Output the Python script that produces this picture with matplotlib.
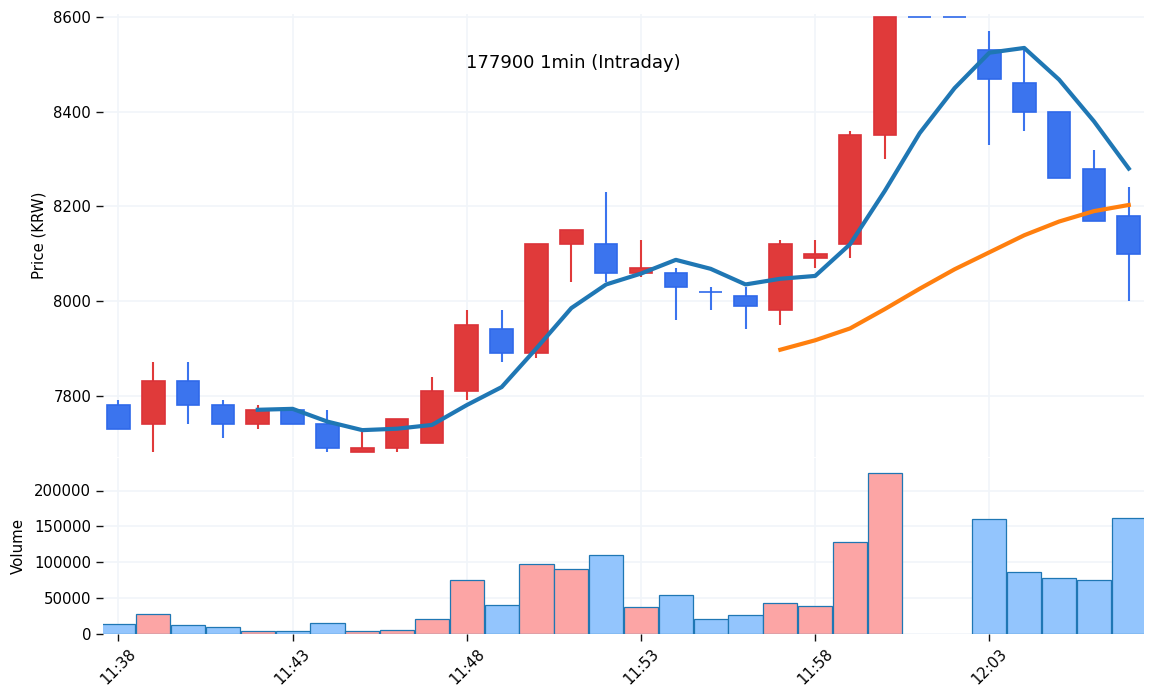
import matplotlib
matplotlib.use("Agg")
import matplotlib.pyplot as plt

minutes = ["11:38","11:39","11:40","11:41","11:42","11:43","11:44","11:45","11:46","11:47",
           "11:48","11:49","11:50","11:51","11:52","11:53","11:54","11:55","11:56","11:57",
           "11:58","11:59","12:00","12:01","12:02","12:03","12:04","12:05","12:06","12:07"]
opens  = [7780,7740,7830,7780,7740,7770,7740,7680,7690,7700,7810,7940,7890,8120,8120,8060,8060,8020,8010,7980,8090,8120,8350,8600,8600,8530,8460,8400,8280,8180]
closes = [7730,7830,7780,7740,7770,7740,7690,7690,7750,7810,7950,7890,8120,8150,8060,8070,8030,8020,7990,8120,8100,8350,8600,8600,8600,8470,8400,8260,8170,8100]
highs  = [7790,7870,7870,7790,7780,7770,7770,7722,7750,7840,7980,7980,8120,8150,8230,8130,8070,8030,8030,8130,8130,8360,8600,8600,8600,8570,8530,8400,8320,8240]
lows   = [7730,7680,7740,7710,7730,7740,7680,7680,7680,7700,7790,7870,7880,8040,8040,8050,7960,7980,7940,7950,8070,8090,8300,8600,8600,8330,8360,8260,8170,8000]
volumes = [13500,27500,12500,9500,3500,3500,15000,3500,6000,20500,75000,40000,97000,91000,110000,37000,54000,20500,26000,43000,39000,128000,224000,0,0,160000,86000,78000,75000,162000]
ma5 = [7770,7772,7745,7727,7730,7738,7780,7818,7900,7985,8035,8058,8087,8068,8035,8047,8053,8120,8233,8355,8450,8525,8535,8468,8380,8280]
ma20 = [7897,7917,7942,7983,8026,8067,8103,8139,8168,8190,8203]
price_ticks = [7800,8000,8200,8400,8600]
volume_ticks = [0,50000,100000,150000,200000]
title = "177900 1min (Intraday)"

W, H = 1156, 699
fig = plt.figure(figsize=(W/100, H/100), dpi=100)
L, R = 103, 1144
ax = fig.add_axes([L/W, 1-456.5/H, (R-L)/W, (456.5-14)/H])
axv = fig.add_axes([L/W, 1-634/H, (R-L)/W, (634-457.5)/H], sharex=ax)

n = len(minutes)
xs = list(range(n))
UP_BODY, DOWN_BODY = "#e03a3a", "#3b74ee"
UP_EDGE, DOWN_EDGE = "#dc3238", "#2f69ea"
body_cols = [UP_BODY if c > o else DOWN_BODY for o, c in zip(opens, closes)]
edge_cols = [UP_EDGE if c > o else DOWN_EDGE for o, c in zip(opens, closes)]
ax.vlines(xs, lows, highs, colors=body_cols, linewidth=1.5, zorder=2)
ax.bar(xs, [abs(c-o) for o, c in zip(opens, closes)], bottom=[min(o, c) for o, c in zip(opens, closes)],
       width=0.65, color=body_cols, edgecolor=edge_cols, linewidth=1.2, zorder=3, clip_on=False)
ax.plot(xs[4:], ma5, color="#1f77b4", linewidth=3, zorder=4)
ax.plot(xs[19:], ma20, color="#ff7f0e", linewidth=3, zorder=4)

vcols = ["#fca5a5" if c > o else "#93c5fd" for o, c in zip(opens, closes)]
axv.bar(xs[:23], volumes[:23], width=0.98, color=vcols[:23], edgecolor="#1f77b4", linewidth=0.9, zorder=3)
axv.bar(xs[25:], volumes[25:], width=0.98, color=vcols[25:], edgecolor="#1f77b4", linewidth=0.9, zorder=3)

x0, step = 118.4, 34.84
ax.set_xlim((L-x0)/step, (R-x0)/step)
y0, k = 8000, 94.6/200
ax.set_ylim(y0-(456.5-301)/k, y0+(301-14)/k)
axv.set_ylim(0, (634-457.5)/(143.5/200000))
ax.set_yticks(price_ticks)
axv.set_yticks(volume_ticks)
axv.set_xticks(xs[::5])
axv.set_xticklabels(minutes[::5], rotation=45, ha="center")
ax.tick_params(axis="x", bottom=False, labelbottom=False)

for a in (ax, axv):
    for s in a.spines.values():
        s.set_visible(False)
    a.grid(True, color="#f1f5f9", linewidth=1.2, zorder=0)
    a.set_axisbelow(True)
    a.tick_params(labelsize=10.7, color="#111111", length=5, width=1)

ax.set_ylabel("Price (KRW)", fontsize=10.8, labelpad=5)
axv.set_ylabel("Volume", fontsize=10.8, labelpad=6)
fig.text(573/W, 1-62.5/H, title, fontsize=13, ha="center", va="center", color="#000000")
fig.savefig("out.png", dpi=100, facecolor="white")
